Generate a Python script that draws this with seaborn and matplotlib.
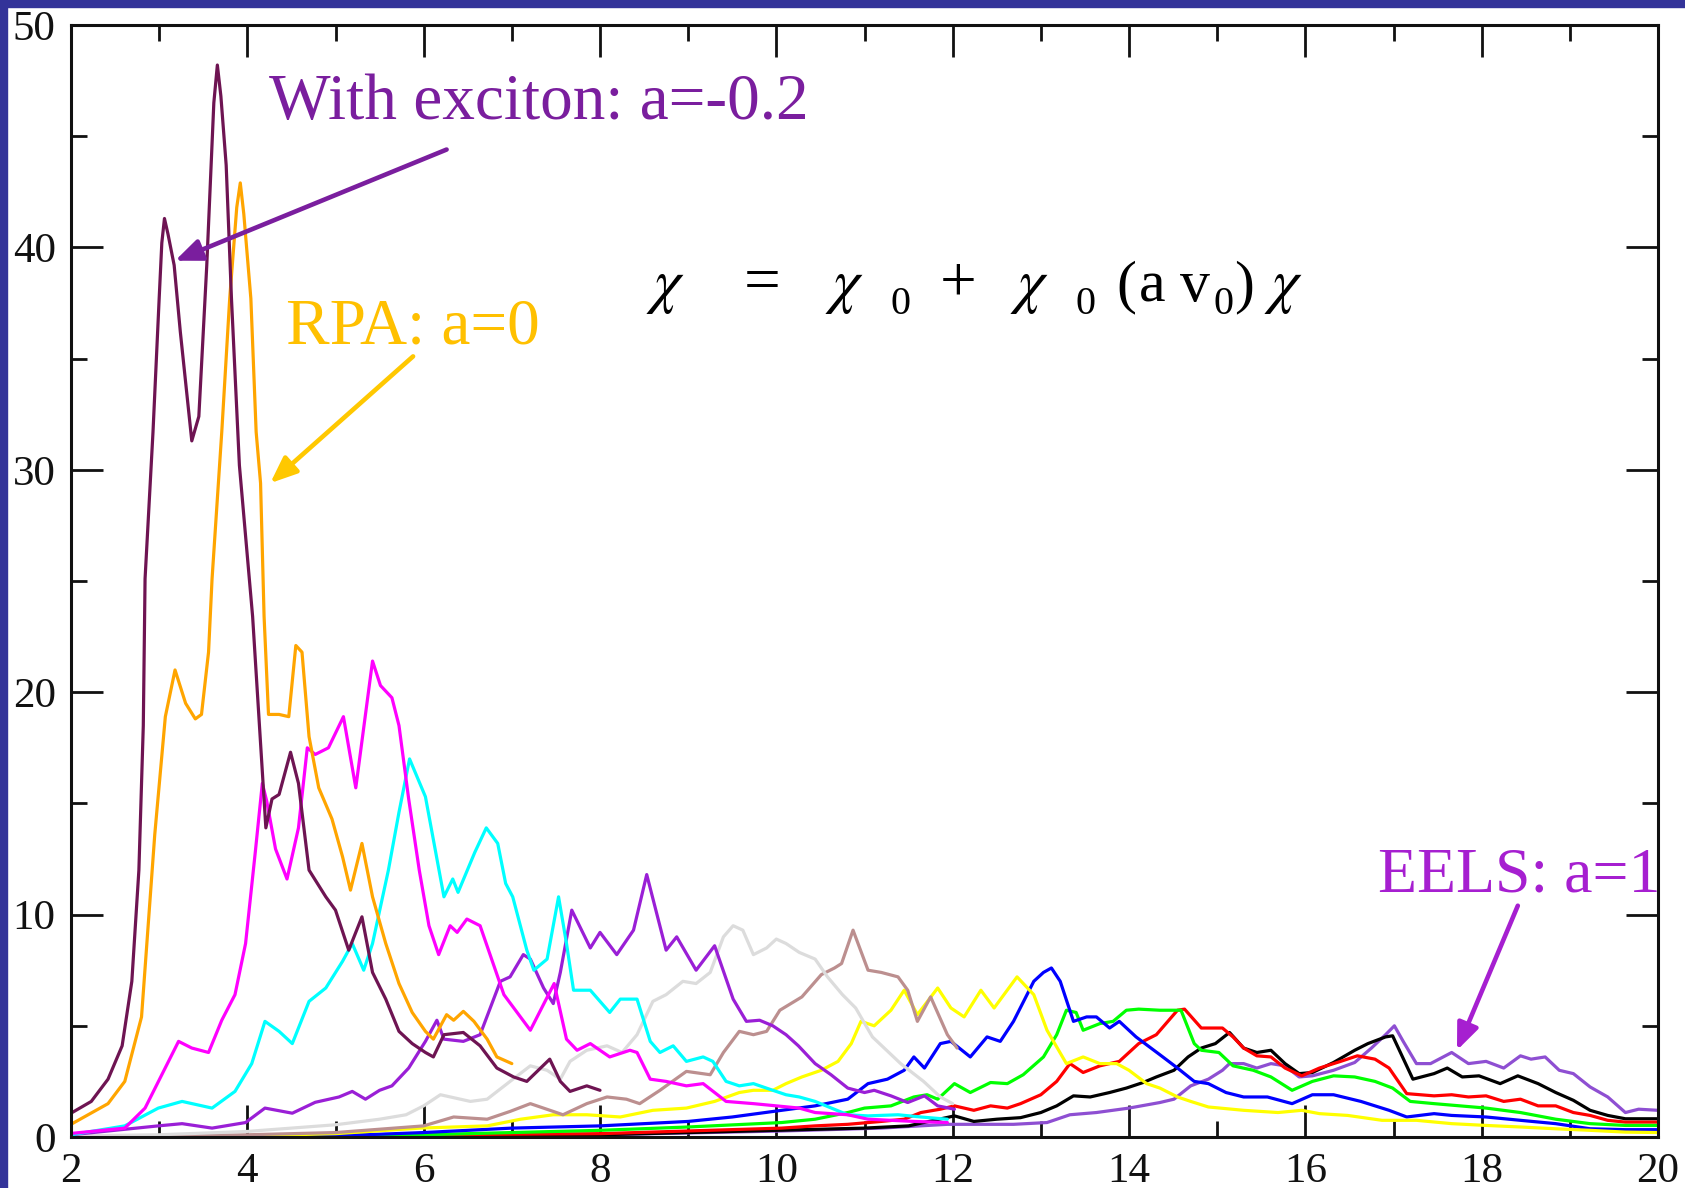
import numpy as np
import pandas as pd
import matplotlib
matplotlib.use("Agg")
import matplotlib.pyplot as plt
from matplotlib.patches import Rectangle
from matplotlib.ticker import MultipleLocator
import seaborn as sns

# ---------------- data ----------------
maroon_x = [2.0, 2.23, 2.42, 2.58, 2.69, 2.77, 2.82, 2.84, 2.93, 3.0, 3.03, 3.06, 3.1, 3.17, 3.24, 3.37, 3.45, 3.54, 3.62, 3.66, 3.7, 3.76, 3.82, 3.91, 4.06, 4.21, 4.28, 4.36, 4.49, 4.58, 4.7, 4.89, 5.0, 5.15, 5.3, 5.42, 5.57, 5.72, 5.87, 6.02, 6.11, 6.23, 6.45, 6.64, 6.83, 7.02, 7.17, 7.43, 7.55, 7.66, 7.85, 8.0]
maroon_y = [1.07, 1.6, 2.6, 4.1, 7.0, 12.0, 18.5, 25.1, 31.7, 37.7, 40.2, 41.3, 40.6, 39.2, 36.2, 31.3, 32.4, 39.2, 46.5, 48.2, 46.8, 43.7, 37.7, 30.2, 23.4, 13.9, 15.2, 15.4, 17.3, 15.9, 12.0, 10.8, 10.2, 8.4, 9.9, 7.4, 6.2, 4.75, 4.2, 3.8, 3.6, 4.6, 4.7, 4.1, 3.1, 2.7, 2.5, 3.5, 2.5, 2.05, 2.3, 2.1]

orange_x = [2.0, 2.42, 2.61, 2.8, 2.95, 3.07, 3.18, 3.3, 3.41, 3.48, 3.56, 3.6, 3.71, 3.8, 3.88, 3.92, 3.96, 4.04, 4.1, 4.15, 4.19, 4.24, 4.36, 4.47, 4.55, 4.62, 4.7, 4.81, 4.96, 5.08, 5.17, 5.3, 5.42, 5.57, 5.72, 5.87, 6.02, 6.11, 6.26, 6.34, 6.45, 6.57, 6.72, 6.83, 7.0]
orange_y = [0.57, 1.5, 2.5, 5.4, 13.6, 18.9, 21.0, 19.5, 18.8, 19.0, 21.8, 25.1, 31.7, 37.7, 41.8, 42.9, 41.5, 37.7, 31.7, 29.4, 23.4, 19.0, 19.0, 18.9, 22.1, 21.8, 18.0, 15.7, 14.3, 12.6, 11.1, 13.2, 10.8, 8.7, 6.9, 5.6, 4.75, 4.4, 5.5, 5.25, 5.65, 5.2, 4.4, 3.6, 3.3]

magenta_x = [2.0, 2.61, 2.84, 3.03, 3.22, 3.37, 3.56, 3.71, 3.86, 3.98, 4.09, 4.17, 4.22, 4.32, 4.45, 4.58, 4.68, 4.77, 4.92, 5.09, 5.23, 5.42, 5.51, 5.64, 5.72, 5.83, 5.95, 6.06, 6.17, 6.3, 6.38, 6.49, 6.64, 6.91, 7.21, 7.48, 7.62, 7.74, 7.89, 8.11, 8.34, 8.42, 8.57, 8.75, 8.98, 9.17, 9.43, 9.74, 10.0, 10.26, 10.44, 10.81, 11.04, 11.56, 11.94]
magenta_y = [0.16, 0.4, 1.3, 2.8, 4.3, 4.0, 3.8, 5.25, 6.4, 8.7, 12.8, 15.9, 15.1, 12.95, 11.6, 13.9, 17.5, 17.2, 17.5, 18.9, 15.7, 21.4, 20.3, 19.75, 18.5, 15.2, 12.0, 9.5, 8.2, 9.5, 9.2, 9.8, 9.5, 6.4, 4.8, 6.9, 4.4, 3.9, 4.2, 3.6, 3.9, 3.8, 2.6, 2.5, 2.3, 2.4, 1.6, 1.5, 1.4, 1.3, 1.1, 1.0, 0.8, 0.7, 0.65]

cyan_x = [2.0, 2.61, 2.99, 3.26, 3.6, 3.86, 4.05, 4.2, 4.36, 4.51, 4.7, 4.89, 5.08, 5.19, 5.32, 5.42, 5.6, 5.72, 5.84, 6.02, 6.23, 6.33, 6.39, 6.58, 6.71, 6.84, 6.93, 7.01, 7.17, 7.25, 7.4, 7.53, 7.62, 7.7, 7.89, 8.11, 8.23, 8.42, 8.57, 8.68, 8.83, 8.98, 9.17, 9.28, 9.43, 9.58, 9.74, 9.96, 10.11, 10.26, 10.44, 10.81, 11.04, 11.38, 11.64, 11.94]
cyan_y = [0.1, 0.5, 1.3, 1.6, 1.3, 2.05, 3.3, 5.2, 4.75, 4.2, 6.1, 6.7, 7.9, 8.7, 7.5, 8.7, 12.0, 14.6, 17.0, 15.3, 10.8, 11.6, 11.0, 12.8, 13.9, 13.2, 11.4, 10.8, 8.4, 7.5, 8.0, 10.8, 8.7, 6.6, 6.6, 5.6, 6.2, 6.2, 4.3, 3.8, 4.1, 3.4, 3.6, 3.4, 2.5, 2.3, 2.4, 2.1, 1.9, 1.8, 1.6, 1.0, 0.95, 1.0, 0.9, 0.8]

violet_x = [2.0, 2.99, 3.26, 3.6, 3.98, 4.2, 4.51, 4.77, 5.04, 5.19, 5.34, 5.5, 5.64, 5.83, 6.02, 6.15, 6.23, 6.45, 6.64, 6.87, 6.98, 7.13, 7.21, 7.36, 7.47, 7.55, 7.68, 7.89, 8.0, 8.19, 8.38, 8.53, 8.75, 8.87, 9.09, 9.3, 9.51, 9.66, 9.81, 9.96, 10.11, 10.25, 10.44, 10.62, 10.81, 11.0, 11.11, 11.3, 11.49, 11.68, 11.83, 12.02]
violet_y = [0.1, 0.5, 0.6, 0.4, 0.65, 1.3, 1.07, 1.56, 1.8, 2.05, 1.7, 2.1, 2.3, 3.1, 4.3, 5.25, 4.4, 4.3, 4.6, 7.0, 7.2, 8.2, 8.0, 6.7, 6.0, 7.4, 10.2, 8.5, 9.2, 8.2, 9.3, 11.8, 8.4, 9.0, 7.5, 8.6, 6.2, 5.2, 5.25, 5.0, 4.6, 4.1, 3.3, 2.8, 2.2, 2.0, 2.1, 1.85, 1.55, 1.85, 1.4, 1.25]

grey_x = [2.0, 3.0, 4.0, 4.5, 5.0, 5.5, 5.8, 6.0, 6.19, 6.53, 6.72, 6.98, 7.21, 7.4, 7.55, 7.66, 7.85, 8.08, 8.25, 8.42, 8.6, 8.75, 8.94, 9.09, 9.25, 9.4, 9.51, 9.62, 9.74, 9.89, 10.0, 10.11, 10.26, 10.44, 10.58, 10.75, 10.9, 11.09, 11.25, 11.41, 11.67, 11.86, 12.0]
grey_y = [0.05, 0.1, 0.25, 0.4, 0.55, 0.8, 1.0, 1.4, 1.9, 1.6, 1.7, 2.5, 3.2, 3.0, 2.6, 3.4, 3.9, 4.1, 3.8, 4.6, 6.1, 6.4, 7.0, 6.9, 7.4, 9.0, 9.5, 9.3, 8.2, 8.5, 8.9, 8.7, 8.3, 8.0, 7.2, 6.4, 5.8, 4.5, 3.9, 3.3, 2.5, 1.8, 1.5]

brown_x = [2.0, 4.0, 5.0, 6.0, 6.34, 6.72, 6.98, 7.21, 7.47, 7.58, 7.85, 8.08, 8.3, 8.45, 8.68, 8.98, 9.25, 9.4, 9.58, 9.74, 9.89, 10.04, 10.29, 10.51, 10.66, 10.74, 10.87, 11.04, 11.19, 11.38, 11.49, 11.6, 11.75, 11.94, 12.05]
brown_y = [0.0, 0.1, 0.2, 0.5, 0.9, 0.8, 1.15, 1.5, 1.15, 1.0, 1.5, 1.8, 1.7, 1.5, 2.1, 2.95, 2.8, 3.8, 4.75, 4.6, 4.75, 5.7, 6.3, 7.3, 7.6, 7.8, 9.3, 7.5, 7.4, 7.2, 6.6, 5.2, 6.3, 4.6, 4.0]

yellow_x = [2.0, 4.0, 5.0, 5.96, 6.72, 7.1, 7.47, 7.85, 8.23, 8.6, 8.98, 9.3, 9.58, 9.74, 9.96, 10.11, 10.29, 10.51, 10.7, 10.85, 10.96, 11.11, 11.3, 11.45, 11.6, 11.83, 11.98, 12.13, 12.32, 12.47, 12.73, 12.92, 13.07, 13.29, 13.48, 13.67, 13.86, 14.0, 14.2, 14.35, 14.55, 14.7, 14.9, 15.3, 15.69, 15.96, 16.16, 16.48, 16.87, 17.26, 17.66, 18.05, 18.44, 18.84, 19.23, 19.63, 20.0]
yellow_y = [0.0, 0.05, 0.15, 0.4, 0.5, 0.8, 1.0, 1.0, 0.9, 1.2, 1.3, 1.6, 2.0, 2.1, 2.1, 2.4, 2.7, 3.0, 3.4, 4.2, 5.2, 5.0, 5.7, 6.6, 5.5, 6.7, 5.8, 5.4, 6.6, 5.8, 7.2, 6.4, 4.8, 3.3, 3.6, 3.3, 3.3, 3.0, 2.4, 2.2, 1.8, 1.6, 1.35, 1.2, 1.1, 1.2, 1.05, 0.97, 0.75, 0.75, 0.6, 0.52, 0.45, 0.37, 0.3, 0.22, 0.2]

blue_x = [2.0, 5.0, 6.0, 7.0, 8.0, 9.0, 9.5, 10.06, 10.44, 10.81, 11.04, 11.26, 11.45, 11.56, 11.68, 11.86, 11.98, 12.2, 12.39, 12.54, 12.69, 12.92, 13.03, 13.12, 13.22, 13.37, 13.52, 13.63, 13.78, 13.89, 14.08, 14.35, 14.55, 14.74, 14.9, 15.1, 15.3, 15.57, 15.85, 16.08, 16.32, 16.63, 16.95, 17.15, 17.46, 17.66, 18.05, 18.44, 18.84, 19.23, 19.63, 20.0]
blue_y = [0.0, 0.05, 0.2, 0.4, 0.5, 0.7, 0.9, 1.2, 1.4, 1.7, 2.4, 2.6, 3.0, 3.6, 3.1, 4.2, 4.3, 3.6, 4.5, 4.3, 5.2, 7.0, 7.4, 7.6, 7.0, 5.2, 5.4, 5.4, 4.9, 5.2, 4.5, 3.7, 3.1, 2.5, 2.4, 2.0, 1.8, 1.8, 1.5, 1.9, 1.9, 1.6, 1.2, 0.9, 1.05, 0.97, 0.9, 0.75, 0.6, 0.37, 0.33, 0.33]

green_x = [2.0, 6.0, 8.0, 9.0, 10.06, 10.44, 10.81, 11.0, 11.3, 11.56, 11.71, 11.83, 12.02, 12.2, 12.43, 12.62, 12.8, 13.03, 13.18, 13.29, 13.4, 13.48, 13.67, 13.82, 13.97, 14.11, 14.35, 14.59, 14.74, 14.82, 15.02, 15.18, 15.41, 15.61, 15.85, 16.08, 16.32, 16.56, 16.79, 16.99, 17.19, 17.46, 18.05, 18.44, 18.84, 19.23, 19.63, 20.0]
green_y = [0.0, 0.1, 0.3, 0.45, 0.65, 0.8, 1.1, 1.3, 1.4, 1.8, 1.9, 1.7, 2.4, 2.0, 2.45, 2.4, 2.8, 3.6, 4.6, 5.7, 5.6, 4.8, 5.1, 5.2, 5.7, 5.75, 5.7, 5.7, 4.2, 3.9, 3.8, 3.2, 3.0, 2.7, 2.1, 2.5, 2.75, 2.7, 2.5, 2.2, 1.6, 1.5, 1.3, 1.1, 0.8, 0.6, 0.52, 0.52]

red_x = [2.0, 8.0, 10.06, 10.44, 10.81, 11.19, 11.45, 11.64, 11.86, 12.02, 12.24, 12.43, 12.62, 12.77, 13.0, 13.18, 13.33, 13.48, 13.67, 13.89, 14.11, 14.31, 14.55, 14.63, 14.82, 15.06, 15.18, 15.3, 15.45, 15.61, 15.77, 15.96, 16.16, 16.4, 16.59, 16.79, 16.95, 17.15, 17.46, 17.66, 17.85, 18.05, 18.25, 18.44, 18.64, 18.84, 19.04, 19.23, 19.43, 19.63, 20.0]
red_y = [0.0, 0.15, 0.4, 0.5, 0.57, 0.7, 0.8, 1.1, 1.25, 1.4, 1.2, 1.4, 1.3, 1.5, 1.9, 2.5, 3.3, 2.9, 3.2, 3.4, 4.2, 4.6, 5.7, 5.75, 4.9, 4.9, 4.5, 4.0, 3.65, 3.6, 3.1, 2.75, 3.1, 3.4, 3.65, 3.5, 3.1, 1.95, 1.85, 1.9, 1.8, 1.85, 1.6, 1.7, 1.4, 1.4, 1.1, 0.97, 0.75, 0.67, 0.67]

black_x = [2.0, 8.0, 10.0, 11.0, 11.5, 12.02, 12.24, 12.5, 12.77, 13.0, 13.18, 13.37, 13.56, 13.78, 13.97, 14.16, 14.31, 14.51, 14.67, 14.82, 14.98, 15.14, 15.3, 15.45, 15.61, 15.77, 15.93, 16.08, 16.32, 16.56, 16.71, 16.91, 16.99, 17.22, 17.46, 17.61, 17.78, 17.97, 18.21, 18.41, 18.64, 18.84, 19.04, 19.23, 19.43, 19.63, 20.0]
black_y = [0.0, 0.1, 0.3, 0.4, 0.5, 0.95, 0.7, 0.8, 0.87, 1.1, 1.4, 1.85, 1.8, 2.0, 2.2, 2.45, 2.7, 3.0, 3.6, 4.0, 4.2, 4.7, 4.0, 3.8, 3.9, 3.3, 2.85, 2.9, 3.35, 3.9, 4.2, 4.5, 4.55, 2.6, 2.85, 3.1, 2.7, 2.75, 2.4, 2.75, 2.4, 2.0, 1.65, 1.2, 0.97, 0.82, 0.82]

eels_x = [2.0, 6.0, 8.0, 10.06, 11.19, 11.94, 12.69, 13.07, 13.33, 13.63, 14.0, 14.35, 14.51, 14.7, 14.9, 15.06, 15.14, 15.3, 15.45, 15.61, 15.77, 15.93, 16.08, 16.32, 16.56, 16.75, 16.91, 17.01, 17.11, 17.26, 17.42, 17.66, 17.85, 18.05, 18.25, 18.44, 18.56, 18.72, 18.88, 19.04, 19.23, 19.43, 19.63, 19.78, 20.0]
eels_y = [0.0, 0.05, 0.1, 0.27, 0.4, 0.57, 0.57, 0.65, 1.0, 1.1, 1.3, 1.55, 1.7, 2.3, 2.6, 3.0, 3.3, 3.3, 3.1, 3.3, 3.2, 2.7, 2.75, 3.0, 3.35, 4.0, 4.6, 5.0, 4.3, 3.3, 3.3, 3.8, 3.3, 3.4, 3.1, 3.65, 3.5, 3.6, 3.0, 2.85, 2.25, 1.8, 1.1, 1.25, 1.2]

x_ticks = [2, 4, 6, 8, 10, 12, 14, 16, 18, 20]
y_ticks = [0, 10, 20, 30, 40, 50]

series = [
    ("eels",    eels_x,    eels_y,    "#8E4FD2"),
    ("black",   black_x,   black_y,   "#000000"),
    ("red",     red_x,     red_y,     "#FF0000"),
    ("green",   green_x,   green_y,   "#00FF00"),
    ("blue",    blue_x,    blue_y,    "#0000FF"),
    ("yellow",  yellow_x,  yellow_y,  "#FFFF00"),
    ("brown",   brown_x,   brown_y,   "#BC8F8F"),
    ("grey",    grey_x,    grey_y,    "#DCDCDC"),
    ("violet",  violet_x,  violet_y,  "#9A1FD6"),
    ("cyan",    cyan_x,    cyan_y,    "#00FFFF"),
    ("magenta", magenta_x, magenta_y, "#FF00FF"),
    ("orange",  orange_x,  orange_y,  "#FFA500"),
    ("maroon",  maroon_x,  maroon_y,  "#6E1452"),
]

# ---------------- figure ----------------
sns.set_theme(style="white")
plt.rcParams["font.family"] = ["Liberation Serif", "DejaVu Serif"]
plt.rcParams["mathtext.fontset"] = "stix"

W, H = 1685, 1188
fig = plt.figure(figsize=(W / 100, H / 100), dpi=100)
fig.patch.set_facecolor("white")
ax = fig.add_axes([71 / W, 1 - 1137 / H, (1658 - 71) / W, (1137 - 25) / H])
ax.set_facecolor("white")

for name, xs, ys, col in series:
    df = pd.DataFrame({"x": xs, "y": ys})
    sns.lineplot(data=df, x="x", y="y", color=col, linewidth=2.3, ax=ax,
                 estimator=None, sort=False, legend=False)

ax.set_xlim(2, 20)
ax.set_ylim(0, 50)
ax.set_xticks(x_ticks)
ax.set_yticks(y_ticks)
ax.xaxis.set_minor_locator(MultipleLocator(1))
ax.yaxis.set_minor_locator(MultipleLocator(5))
ax.set_xlabel("")
ax.set_ylabel("")
for s in ax.spines.values():
    s.set_visible(True)
    s.set_linewidth(2.2)
    s.set_color("#111111")
ax.tick_params(which="both", direction="in", top=True, right=True,
               bottom=True, left=True, color="#111111", width=2.0)
ax.tick_params(which="major", length=23)
ax.tick_params(which="minor", length=11.5)
ax.tick_params(axis="x", which="major", labelsize=31, pad=11, labelcolor="#111111")
ax.tick_params(axis="y", which="major", labelsize=31, pad=11, labelcolor="#111111")

# annotations
def fx(px):
    return px / W

def fy(py):
    return 1 - py / H

fig.text(fx(269), fy(119), "With exciton: a=-0.2", color="#7A1E9E", fontsize=47,
         ha="left", va="baseline")
fig.text(fx(286), fy(344), "RPA: a=0", color="#FFC000", fontsize=47,
         ha="left", va="baseline")
fig.text(fx(1378), fy(892), "EELS: a=1", color="#A61FD0", fontsize=46,
         ha="left", va="baseline")

arrow_kw = dict(arrowstyle="-|>,head_length=0.8,head_width=0.33", lw=3.3,
                mutation_scale=20, shrinkA=0, shrinkB=0)
ax.annotate("", xy=(3.18, 39.4), xytext=(6.26, 44.4),
            arrowprops=dict(color="#7A1E9E", **arrow_kw))
ax.annotate("", xy=(4.26, 29.4), xytext=(5.88, 35.1),
            arrowprops=dict(color="#FFC800", **arrow_kw))
ax.annotate("", xy=(17.72, 3.9), xytext=(18.41, 10.4),
            arrowprops=dict(color="#A61FD0", **arrow_kw))

# equation pieces
base = 301
sub = 314
chi = r"$\chi$"
eq_main = [(646, chi, 44), (744, "=", 47), (825, chi, 44), (940, "+", 47), (1010, chi, 44),
           (1116, "(", 43), (1139, "a", 43), (1180, "v", 43), (1234, ")", 43), (1264, chi, 44)]
for px, t, fs in eq_main:
    fig.text(fx(px), fy(base), t, fontsize=fs, color="black", ha="left", va="baseline")
for px in (891, 1075, 1213):
    fig.text(fx(px), fy(sub), "0", fontsize=29, color="black", ha="left", va="baseline")

# blue slide border (top and left)
fig.patches.append(Rectangle((0, 1 - 7 / H), 1, 7 / H, transform=fig.transFigure,
                             color="#333399", zorder=10))
fig.patches.append(Rectangle((0, 0), 7 / W, 1, transform=fig.transFigure,
                             color="#333399", zorder=10))

fig.savefig("out.png", dpi=100, facecolor="white")
